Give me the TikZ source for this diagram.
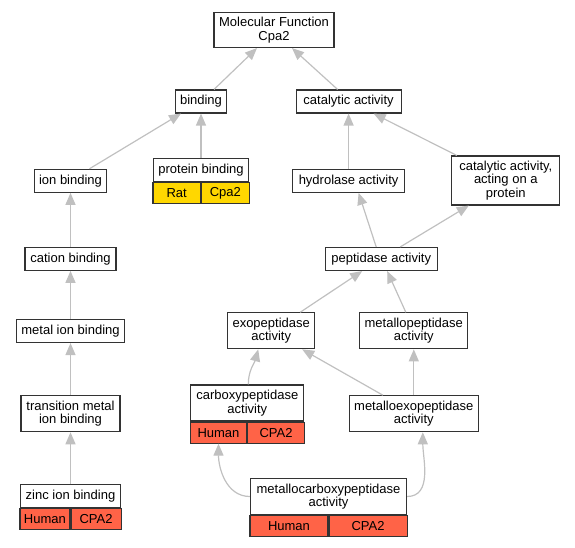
\documentclass[tikz,border=0pt]{standalone}
\usepackage{fontspec}
\setmainfont{Liberation Sans}
\usetikzlibrary{arrows.meta,positioning}
\definecolor{tomato}{HTML}{FF6347}
\definecolor{gold}{HTML}{FFD700}
\definecolor{edgegray}{HTML}{C0C0C0}
\newcommand{\termfont}{\fontsize{13}{13.3}\selectfont}

\begin{document}
\begin{tikzpicture}[x=1pt, y=-1pt,
    term/.style={rectangle, draw=black!80, line width=1.1pt, fill=white, minimum height=23pt, inner sep=0pt, align=center, font=\termfont},
    cell/.style={rectangle, draw=black!80, line width=1.1pt, minimum height=21pt, inner sep=0pt, font=\termfont},
    human/.style={cell, fill=tomato},
    rat/.style={cell, fill=gold},
    arrow/.style={-{Triangle[length=12pt, width=10pt]}, draw=edgegray, line width=1.2pt}
]
    \useasboundingbox (0,0) rectangle (575,547);

    % Terms
    \node[term, minimum width=120pt, minimum height=35pt] (mf) at (274,30) {Molecular Function\\Cpa2};
    \node[term, minimum width=51pt] (binding) at (201,101.5) {binding};
    \node[term, minimum width=105pt] (catalytic) at (348.6,101.5) {catalytic activity};
    \node[term, minimum width=72pt] (ion) at (70.5,180.8) {ion binding};
    \node[term, minimum width=95pt] (protein) at (201,170) {protein binding};
    \node[term, minimum width=112pt] (hydrolase) at (348.6,180.8) {hydrolase activity};
    \node[term, minimum width=108pt, minimum height=49pt] (acting) at (505.8,180.5) {catalytic activity,\\acting on a\\protein};
    \node[term, minimum width=91pt] (cation) at (70.5,258.8) {cation binding};
    \node[term, minimum width=112pt] (peptidase) at (381.2,259) {peptidase activity};
    \node[term, minimum width=108pt] (metal) at (70.5,331) {metal ion binding};
    \node[term, minimum width=87pt, minimum height=36pt] (exo) at (271.2,330.8) {exopeptidase\\activity};
    \node[term, minimum width=108pt, minimum height=36pt] (metallo) at (413.8,330.8) {metallopeptidase\\activity};
    \node[term, minimum width=99pt, minimum height=36pt] (transition) at (70.5,413.7) {transition metal\\ion binding};
    \node[term, minimum width=113pt, minimum height=36pt] (carboxy) at (247.3,403) {carboxypeptidase\\activity};
    \node[term, minimum width=129pt, minimum height=36pt] (metalloexo) at (413.8,413.7) {metalloexopeptidase\\activity};
    \node[term, minimum width=100pt] (zinc) at (70.5,496.3) {zinc ion binding};
    \node[term, minimum width=156pt, minimum height=36pt] (mcarboxy) at (328.5,496.5) {metallocarboxypeptidase\\activity};

    % Annotations
    \node[rat, minimum width=47.5pt, anchor=north east] (proteinR) at (protein.south) {Rat};
    \node[rat, minimum width=47.5pt, anchor=north west] (proteinC) at (protein.south) {Cpa2};
    \node[human, minimum width=56.5pt, anchor=north east] (carboxyH) at (carboxy.south) {Human};
    \node[human, minimum width=56.5pt, anchor=north west] (carboxyC) at (carboxy.south) {CPA2};
    \node[human, minimum width=50pt, anchor=north east] (zincH) at (zinc.south) {Human};
    \node[human, minimum width=50pt, anchor=north west] (zincC) at (zinc.south) {CPA2};
    \node[human, minimum width=78pt, anchor=north east] (mcarboxyH) at (mcarboxy.south) {Human};
    \node[human, minimum width=78pt, anchor=north west] (mcarboxyC) at (mcarboxy.south) {CPA2};

    % Edges
    \draw[arrow] ([xshift=13pt]binding.north) -- ([xshift=-17pt]mf.south);
    \draw[arrow] ([xshift=-11pt]catalytic.north) -- ([xshift=18pt]mf.south);
    \draw[arrow] ([xshift=19pt]ion.north) -- ([xshift=-20pt]binding.south);
    \draw[arrow] (protein.north) -- (protein.north |- binding.south);
    \draw[arrow] (hydrolase.north) -- (hydrolase.north |- catalytic.south);
    \draw[arrow] ([xshift=-49pt]acting.north) -- ([xshift=25pt]catalytic.south);
    \draw[arrow] (cation.north) -- (cation.north |- ion.south);
    \draw[arrow] ([xshift=-5pt]peptidase.north) -- ([xshift=10pt]hydrolase.south);
    \draw[arrow] ([xshift=19pt]peptidase.north) -- ([xshift=-37pt]acting.south);
    \draw[arrow] (metal.north) -- (metal.north |- cation.south);
    \draw[arrow] ([xshift=29pt]exo.north) -- ([xshift=-19pt]peptidase.south);
    \draw[arrow] ([xshift=-8pt]metallo.north) -- ([xshift=6pt]peptidase.south);
    \draw[arrow] (transition.north) -- (transition.north |- metal.south);
    \draw[arrow] ([xshift=1pt]carboxy.north) to[out=90, in=-105] ([xshift=-13pt]exo.south);
    \draw[arrow] ([xshift=-31pt]metalloexo.north) -- ([xshift=31pt]exo.south);
    \draw[arrow] (metalloexo.north) -- (metalloexo.north |- metallo.south);
    \draw[arrow] (zinc.north) -- (zinc.north |- transition.south);
    \draw[arrow] (mcarboxy.west) to[out=180, in=-90] (carboxyH.south);
    \draw[arrow] (mcarboxy.east) to[out=0, in=-90] ([xshift=9pt]metalloexo.south);
\end{tikzpicture}
\end{document}
